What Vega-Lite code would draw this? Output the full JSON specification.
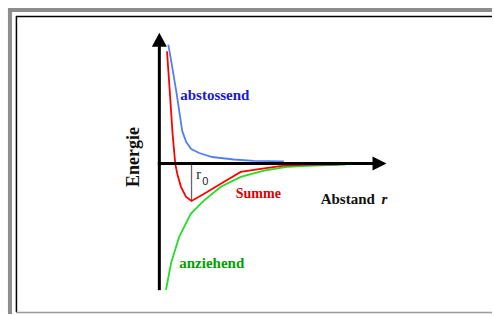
{
  "$schema": "https://vega.github.io/schema/vega-lite/v6.json",
  "width": 494,
  "height": 316,
  "autosize": {"type": "fit", "contains": "padding"},
  "padding": 0,
  "background": "white",
  "config": {"view": {"stroke": null}},
  "encoding": {
    "x": {"field": "r", "type": "quantitative", "scale": {"domain": [-1.6, 3.34], "nice": false, "zero": false}, "axis": null},
    "y": {"field": "E", "type": "quantitative", "scale": {"domain": [-1.515, 1.645], "nice": false, "zero": false}, "axis": null}
  },
  "layer": [
    {
      "data": {"values": [
        {"r": -1.52, "r2": 3.34, "E": 1.545, "E2": 1.545},
        {"r": -1.5, "r2": -1.5, "E": 1.565, "E2": -1.515}
      ]},
      "mark": {"type": "rule", "color": "#8c8c8c", "strokeWidth": 4},
      "encoding": {"x2": {"field": "r2"}, "y2": {"field": "E2"}}
    },
    {
      "data": {"values": [
        {"r": -1.44, "r2": 3.34, "E": 1.48, "E2": 1.48},
        {"r": -1.435, "r2": -1.435, "E": 1.485, "E2": -1.495}
      ]},
      "mark": {"type": "rule", "color": "#000000", "strokeWidth": 1.5},
      "encoding": {"x2": {"field": "r2"}, "y2": {"field": "E2"}}
    },
    {
      "data": {"values": [
        {"r": -1.44, "r2": 3.34, "E": -1.5, "E2": -1.5}
      ]},
      "mark": {"type": "rule", "color": "#9a9a9a", "strokeWidth": 1.5},
      "encoding": {"x2": {"field": "r2"}, "y2": {"field": "E2"}}
    },
    {
      "data": {"values": [
        {"r": 0.323, "r2": 0.323, "E": 0, "E2": -0.37}
      ]},
      "mark": {"type": "rule", "color": "#666666", "strokeWidth": 1.3},
      "encoding": {"x2": {"field": "r2"}, "y2": {"field": "E2"}}
    },
    {
      "data": {"values": [
        {"r": 0.09, "E": 1.195}, {"r": 0.12, "E": 1.025}, {"r": 0.17, "E": 0.725},
        {"r": 0.23, "E": 0.325}, {"r": 0.27, "E": 0.215}, {"r": 0.32, "E": 0.145},
        {"r": 0.40, "E": 0.105}, {"r": 0.53, "E": 0.065}, {"r": 0.75, "E": 0.04},
        {"r": 0.95, "E": 0.025}, {"r": 1.25, "E": 0.02}
      ]},
      "mark": {"type": "line", "color": "#5080f0", "strokeWidth": 1.8},
      "encoding": {"order": {"field": "r", "type": "quantitative"}}
    },
    {
      "data": {"values": [
        {"r": 0.067, "E": -1.272}, {"r": 0.117, "E": -1.005}, {"r": 0.20, "E": -0.735},
        {"r": 0.317, "E": -0.505}, {"r": 0.45, "E": -0.372}, {"r": 0.617, "E": -0.235},
        {"r": 0.817, "E": -0.135}, {"r": 1.05, "E": -0.072}, {"r": 1.28, "E": -0.035},
        {"r": 1.55, "E": -0.022}, {"r": 1.867, "E": -0.012}
      ]},
      "mark": {"type": "line", "color": "#22dd22", "strokeWidth": 1.8},
      "encoding": {"order": {"field": "r", "type": "quantitative"}}
    },
    {
      "data": {"values": [
        {"r": 0.077, "E": 1.128}, {"r": 0.10, "E": 0.795}, {"r": 0.133, "E": 0.295},
        {"r": 0.16, "E": -0.005}, {"r": 0.18, "E": -0.105}, {"r": 0.217, "E": -0.235},
        {"r": 0.267, "E": -0.335}, {"r": 0.323, "E": -0.378}, {"r": 0.45, "E": -0.305},
        {"r": 0.617, "E": -0.205}, {"r": 0.817, "E": -0.085}, {"r": 1.017, "E": -0.055},
        {"r": 1.25, "E": -0.022}, {"r": 1.517, "E": -0.012}, {"r": 1.80, "E": -0.01}
      ]},
      "mark": {"type": "line", "color": "#ff0000", "strokeWidth": 1.8},
      "encoding": {"order": {"field": "r", "type": "quantitative"}}
    },
    {
      "data": {"values": [
        {"r": 0, "r2": 0, "E": -1.275, "E2": 1.18},
        {"r": -0.015, "r2": 2.15, "E": 0, "E2": 0}
      ]},
      "mark": {"type": "rule", "color": "#000000", "strokeWidth": 3},
      "encoding": {"x2": {"field": "r2"}, "y2": {"field": "E2"}}
    },
    {
      "data": {"values": [{"r": 0, "E": 1.175}]},
      "mark": {"type": "point", "shape": "M0,-1.87L-1,0L1,0Z", "filled": true, "color": "#000000", "opacity": 1, "size": 225, "strokeWidth": 0}
    },
    {
      "data": {"values": [{"r": 2.14, "E": 0}]},
      "mark": {"type": "point", "shape": "M2,0L0,-1L0,1Z", "filled": true, "color": "#000000", "opacity": 1, "size": 196, "strokeWidth": 0}
    },
    {
      "data": {"values": [{"r": 0.21, "E": 0.685, "label": "abstossend"}]},
      "mark": {"type": "text", "align": "left", "baseline": "middle", "font": "Liberation Serif", "fontWeight": "bold", "fontSize": 15, "color": "#1a1acc"},
      "encoding": {"text": {"field": "label"}}
    },
    {
      "data": {"values": [{"r": 0.767, "E": -0.305, "label": "Summe"}]},
      "mark": {"type": "text", "align": "left", "baseline": "middle", "font": "Liberation Serif", "fontWeight": "bold", "fontSize": 14, "color": "#e00000"},
      "encoding": {"text": {"field": "label"}}
    },
    {
      "data": {"values": [{"r": 0.20, "E": -1.005, "label": "anziehend"}]},
      "mark": {"type": "text", "align": "left", "baseline": "middle", "font": "Liberation Serif", "fontWeight": "bold", "fontSize": 15, "color": "#00a000"},
      "encoding": {"text": {"field": "label"}}
    },
    {
      "data": {"values": [{"r": 1.62, "E": -0.355, "label": "Abstand"}]},
      "mark": {"type": "text", "align": "left", "baseline": "middle", "font": "Liberation Serif", "fontWeight": "bold", "fontSize": 15, "color": "#111111"},
      "encoding": {"text": {"field": "label"}}
    },
    {
      "data": {"values": [{"r": 2.23, "E": -0.355, "label": "r"}]},
      "mark": {"type": "text", "align": "left", "baseline": "middle", "font": "Liberation Serif", "fontWeight": "bold", "fontStyle": "italic", "fontSize": 15, "color": "#111111"},
      "encoding": {"text": {"field": "label"}}
    },
    {
      "data": {"values": [{"r": -0.25, "E": 0.065, "label": "Energie"}]},
      "mark": {"type": "text", "align": "center", "baseline": "middle", "angle": 270, "font": "Liberation Serif", "fontWeight": "bold", "fontSize": 18, "color": "#111111"},
      "encoding": {"text": {"field": "label"}}
    },
    {
      "data": {"values": [{"r": 0.37, "E": -0.115, "label": "r"}]},
      "mark": {"type": "text", "align": "left", "baseline": "middle", "font": "Liberation Serif", "fontSize": 14, "color": "#222222"},
      "encoding": {"text": {"field": "label"}}
    },
    {
      "data": {"values": [{"r": 0.43, "E": -0.185, "label": "0"}]},
      "mark": {"type": "text", "align": "left", "baseline": "middle", "font": "Liberation Sans", "fontSize": 11, "color": "#222222"},
      "encoding": {"text": {"field": "label"}}
    }
  ]
}
